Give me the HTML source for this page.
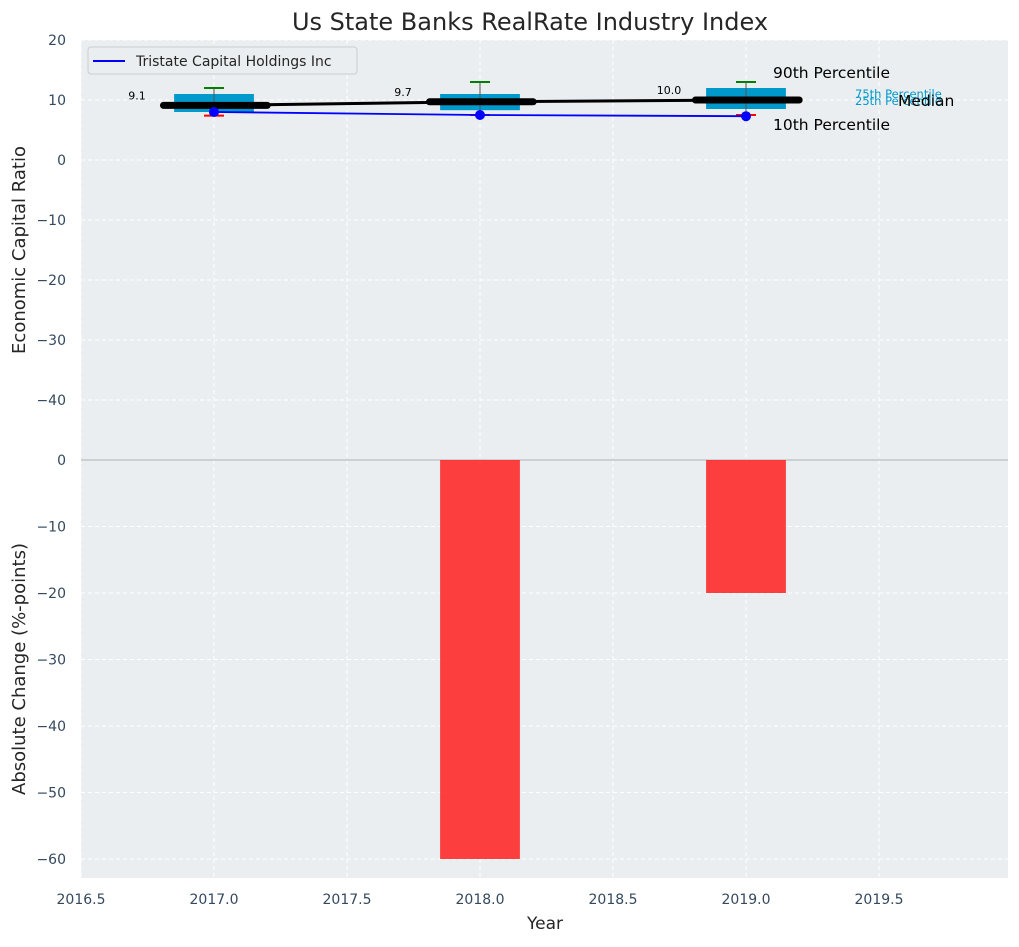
<!DOCTYPE html>
<html><head><meta charset="utf-8"><style>
body{margin:0;background:#fff;}
svg{font-family:"DejaVu Sans","Liberation Sans",sans-serif;}
</style></head><body>
<svg id="c" width="1019" height="942" xmlns="http://www.w3.org/2000/svg"></svg>
<script>
const years=[2017,2018,2019];
const q1=[8.0,8.3,8.5];
const q3=[11.0,11.0,12.0];
const p90=[12.0,13.0,13.0];
const p10=[7.4,7.5,7.5];
const medians=[9.1,9.7,10.0];
const company=[8.0,7.5,7.3];
const changes=[0,-60,-20];
const xTicks=[2016.5,2017.0,2017.5,2018.0,2018.5,2019.0,2019.5];
const topTicks=[20,10,0,-10,-20,-30,-40];
const botTicks=[0,-10,-20,-30,-40,-50,-60];

const NS="http://www.w3.org/2000/svg";
const svg=document.getElementById('c');
const L=81,R=1008,T1=40,B1=460,T2=460,B2=878;
const xs=v=>L+(v-2016.5)*266;
const y1=v=>T1+(20-v)*6;
const y2=v=>T2+(0-v)*(399/60);
function el(tag,attrs,parent){const e=document.createElementNS(NS,tag);for(const k in attrs)e.setAttribute(k,attrs[k]);(parent||svg).appendChild(e);return e;}
function tx(x,y,s,attrs){const e=el('text',Object.assign({x:x,y:y},attrs));e.textContent=s;return e;}

let bg=el('rect',{x:L,y:T1,width:R-L,height:B1-T1,fill:'#eaeef0'});


bg=el('rect',{x:L,y:T2,width:R-L,height:B2-T2,fill:'#eaeef0'});



xTicks.forEach(t=>{
  el('line',{x1:xs(t),x2:xs(t),y1:T1,y2:B2,stroke:'#fff','stroke-dasharray':'4,3','stroke-width':1});
  let l=tx(xs(t),904,t.toFixed(1),{'text-anchor':'middle','font-size':14,fill:'#34495e'});
  
  
});
topTicks.forEach(t=>{
  el('line',{x1:L,x2:R,y1:y1(t),y2:y1(t),stroke:'#fff','stroke-dasharray':'4,3','stroke-width':1});
  let l=tx(66,y1(t)+5,String(t).replace('-','−'),{'text-anchor':'end','font-size':14,fill:'#34495e'});
  
  
});
botTicks.forEach(t=>{
  if(t!==0)el('line',{x1:L,x2:R,y1:y2(t),y2:y2(t),stroke:'#fff','stroke-dasharray':'4,3','stroke-width':1});
  let l=tx(66,y2(t)+5,String(t).replace('-','−'),{'text-anchor':'end','font-size':14,fill:'#34495e'});
  
  
});
el('line',{x1:L,x2:R,y1:T2,y2:T2,stroke:'#b0b0b0','stroke-width':1});

years.forEach((yr,i)=>{
  const cx=xs(yr),hw=0.15*266;
  let b=el('rect',{x:cx-hw,y:y1(q3[i]),width:2*hw,height:y1(q1[i])-y1(q3[i]),fill:'#0099cc'});
  
  
  el('line',{x1:cx,x2:cx,y1:y1(p90[i]),y2:y1(p10[i]),stroke:'#555','stroke-width':1});
  let w=el('line',{x1:cx-10,x2:cx+10,y1:y1(p90[i]),y2:y1(p90[i]),stroke:'green','stroke-width':2});
  
  
  w=el('line',{x1:cx-10,x2:cx+10,y1:y1(p10[i]),y2:y1(p10[i]),stroke:'red','stroke-width':2});
  
  
});
let mp=years.map((yr,i)=>xs(yr)+','+y1(medians[i])).join(' ');
let ml=el('polyline',{points:mp,fill:'none',stroke:'#000','stroke-width':3});


years.forEach((yr,i)=>{
  let m=el('line',{x1:xs(yr-0.19),x2:xs(yr+0.2),y1:y1(medians[i]),y2:y1(medians[i]),stroke:'#000','stroke-width':7,'stroke-linecap':'round'});
  
  
  let l=tx(xs(yr)-77,y1(medians[i])-6,medians[i].toFixed(1),{'font-size':11,fill:'#000','text-anchor':'middle'});
  
  
});
let cp=years.map((yr,i)=>xs(yr)+','+y1(company[i])).join(' ');
let cl=el('polyline',{points:cp,fill:'none',stroke:'blue','stroke-width':1.8});


years.forEach((yr,i)=>{
  let d=el('circle',{cx:xs(yr),cy:y1(company[i]),r:5,fill:'blue'});
  
  
});
const lx=xs(2019)+27;
[['90th Percentile',lx,78,15.5,'#000'],['10th Percentile',lx,130,15.5,'#000'],
 ['75th Percentile',855,y1(10)-2,11.5,'#0099cc'],['25th Percentile',855,y1(10)+5,11.5,'#0099cc'],['Median',898,y1(10)+6,15.5,'#000']].forEach(a=>{
  let t=tx(a[1],a[2],a[0],{'font-size':a[3],fill:a[4]});
  
  
});
years.forEach((yr,i)=>{
  const v=changes[i];
  let b=el('rect',{x:xs(yr-0.15),y:Math.min(y2(0),y2(v)),width:0.3*266,height:Math.abs(y2(v)-y2(0)),fill:'rgba(255,30,30,0.85)'});
  
  
});
const lg=el('g',{});


el('rect',{x:88,y:47,width:269,height:27,rx:3,fill:'#eaeef0',stroke:'#ccc'},lg);
el('line',{x1:93,x2:125,y1:61,y2:61,stroke:'blue','stroke-width':2},lg);
let lt=tx(136,66,'Tristate Capital Holdings Inc',{'font-size':14,fill:'#262626'});


let t=tx(530,30,'Us State Banks RealRate Industry Index',{'text-anchor':'middle','font-size':24,fill:'#262626'});


t=tx(545,929,'Year',{'text-anchor':'middle','font-size':17,fill:'#262626'});


t=tx(0,0,'Economic Capital Ratio',{'text-anchor':'middle','font-size':18,fill:'#262626',transform:'translate(25,250) rotate(-90)'});


t=tx(0,0,'Absolute Change (%-points)',{'text-anchor':'middle','font-size':18,fill:'#262626',transform:'translate(25,669) rotate(-90)'});


</script>
</body></html>
